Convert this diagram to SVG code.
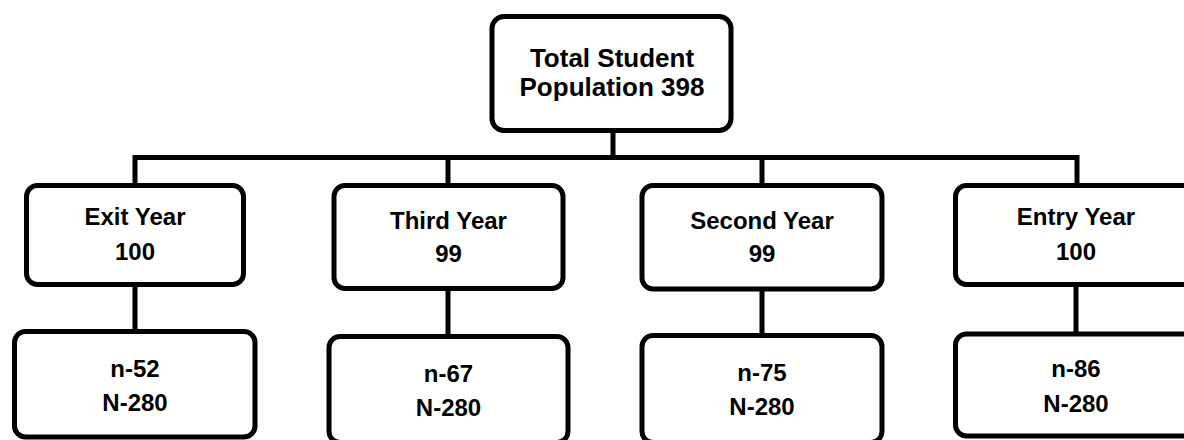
<svg xmlns="http://www.w3.org/2000/svg" width="1184" height="440" viewBox="0 0 1184 440">
<style>
.box{fill:#fff;stroke:#000;stroke-width:5}
.c{fill:none;stroke:#000;stroke-width:5;stroke-linejoin:miter}
text{font-family:"Liberation Sans",Arial,sans-serif;font-weight:bold;font-size:24px;fill:#000;text-anchor:middle}
.big{font-size:26px}
</style>
<rect width="1184" height="440" fill="#fff"/>
<g id="connectors">
<path class="c" d="M613 132V157.5M135 184V157.5H1077V184M448 157.5V184M762 157.5V184"/>
<path class="c" d="M135 286V331M448 290V336M762 290V335M1076 286V333"/>
</g>
<g id="total">
<rect class="box" x="492" y="16.5" width="239" height="114" rx="12"/>
<text class="big" x="612" y="67">Total Student</text>
<text class="big" x="612" y="96">Population 398</text>
</g>
<g id="exit">
<rect class="box" x="26.5" y="185.5" width="217" height="99" rx="11"/>
<text x="135" y="224.5">Exit Year</text>
<text x="135" y="260">100</text>
</g>
<g id="third">
<rect class="box" x="334" y="185.5" width="229" height="103" rx="11"/>
<text x="448.5" y="228.5">Third Year</text>
<text x="448.5" y="261.5">99</text>
</g>
<g id="second">
<rect class="box" x="642" y="185.5" width="240" height="103.5" rx="11"/>
<text x="762" y="228.5">Second Year</text>
<text x="762" y="261.5">99</text>
</g>
<g id="entry">
<rect class="box" x="955.5" y="185.5" width="243" height="99" rx="11"/>
<text x="1076" y="225">Entry Year</text>
<text x="1076" y="260">100</text>
</g>
<g id="exit-n">
<rect class="box" x="14.5" y="331.5" width="240.5" height="105.5" rx="11"/>
<text x="135" y="376.5">n-52</text>
<text x="135" y="410.5">N-280</text>
</g>
<g id="third-n">
<rect class="box" x="329" y="336.5" width="239" height="106" rx="11"/>
<text x="448.5" y="381.5">n-67</text>
<text x="448.5" y="415.5">N-280</text>
</g>
<g id="second-n">
<rect class="box" x="642" y="335.5" width="240" height="107" rx="11"/>
<text x="762" y="381">n-75</text>
<text x="762" y="414.5">N-280</text>
</g>
<g id="entry-n">
<rect class="box" x="955.5" y="334" width="243" height="102" rx="11"/>
<text x="1076" y="376.5">n-86</text>
<text x="1076" y="411.5">N-280</text>
</g>
</svg>
